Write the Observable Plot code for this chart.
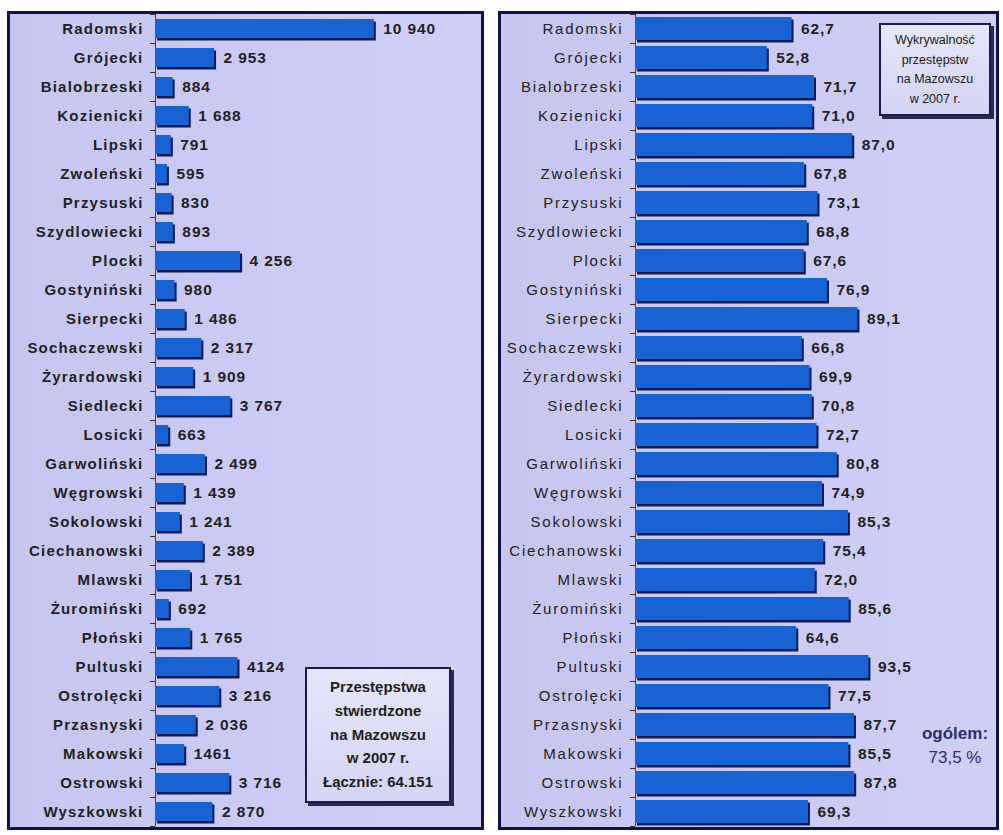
<!DOCTYPE html>
<html>
<head>
<meta charset="utf-8">
<script src="https://cdn.jsdelivr.net/npm/d3@7"></script>
<script src="https://cdn.jsdelivr.net/npm/@observablehq/plot@0.6"></script>
<style>
  html, body { margin: 0; padding: 0; background: #fff; width: 1003px; height: 835px; overflow: hidden; }
  body { position: relative; font-family: "Liberation Sans", Arial, sans-serif; }
  .panel { position: absolute; border: 3px solid #12124a; background: linear-gradient(90deg, #c6c6f0 0%, #cbcbf5 60%, #cfcff7 100%); overflow: hidden; }
  .panel svg { position: absolute; left: 0; top: 0; background: transparent !important; }
  #left .ylab text { letter-spacing: 1.2px; }
  #right .ylab text { letter-spacing: 1.8px; }
  .vals text { letter-spacing: 0.9px; }
  .box { position: absolute; text-align: center; color: #1f1f1f; border: 2px solid #1c1c4a; box-shadow: 3px 3px 0 #2a2a5a; background: linear-gradient(180deg, #e6e6fb 0%, #d4d4f4 100%); }
</style>
</head>
<body>
<div id="left" class="panel" style="left:7px; top:11px; width:471px; height:813px;"></div>
<div id="right" class="panel" style="left:498px; top:11px; width:495px; height:813px;"></div>
<div class="box" style="left:305px; top:667px; width:146px; height:136px; font-weight:bold; font-size:15px; line-height:23.8px; padding-top:6px; box-sizing:border-box;">
Przestępstwa<br>stwierdzone<br>na Mazowszu<br>w 2007 r.<br>Łącznie: 64.151
</div>
<div class="box" style="left:879px; top:23px; width:112px; height:93px; font-size:12.5px; line-height:19.5px; padding-top:6px; box-sizing:border-box; color:#1a1a1a;">
Wykrywalność<br>przestępstw<br>na Mazowszu<br>w 2007 r.
</div>
<div style="position:absolute; left:900px; top:722px; width:110px; text-align:center; color:#2b2f6e; font-size:17px; line-height:24px;">
<b>ogólem:</b><br>73,5 %
</div>
<script>
const districts = ["Radomski","Grójecki","Bialobrzeski","Kozienicki","Lipski","Zwoleński","Przysuski","Szydlowiecki","Plocki","Gostyniński","Sierpecki","Sochaczewski","Żyrardowski","Siedlecki","Losicki","Garwoliński","Węgrowski","Sokolowski","Ciechanowski","Mlawski","Żuromiński","Płoński","Pultuski","Ostrolęcki","Przasnyski","Makowski","Ostrowski","Wyszkowski"];
const crimes = [10940,2953,884,1688,791,595,830,893,4256,980,1486,2317,1909,3767,663,2499,1439,1241,2389,1751,692,1765,4124,3216,2036,1461,3716,2870];
const crimeLabels = ["10 940","2 953","884","1 688","791","595","830","893","4 256","980","1 486","2 317","1 909","3 767","663","2 499","1 439","1 241","2 389","1 751","692","1 765","4124","3 216","2 036","1461","3 716","2 870"];
const detection = [62.7,52.8,71.7,71.0,87.0,67.8,73.1,68.8,67.6,76.9,89.1,66.8,69.9,70.8,72.7,80.8,74.9,85.3,75.4,72.0,85.6,64.6,93.5,77.5,87.7,85.5,87.8,69.3];
const detectionLabels = detection.map(v => v.toFixed(1).replace(".", ","));

const leftData = districts.map((d, i) => ({name: d, value: crimes[i], label: crimeLabels[i]}));
const rightData = districts.map((d, i) => ({name: d, value: detection[i], label: detectionLabels[i]}));

const H = 813, MT = 0, MB = 1;

function panel({data, width, marginLeft, xmax, padding, labelWeight, labelSize}) {
  const inner = width - marginLeft;
  const half = (H - MT - MB) / districts.length / 2;
  return Plot.plot({
    width, height: H,
    marginLeft, marginRight: 0, marginTop: MT, marginBottom: MB,
    style: {fontFamily: "Liberation Sans, Arial, sans-serif", color: "#222", background: "transparent"},
    x: {domain: [0, xmax], axis: null},
    y: {domain: districts, paddingInner: padding, paddingOuter: padding / 2, align: 0.5, axis: null},
    marks: [
      Plot.axisY({tickSize: 0, tickPadding: 12, label: null, fontSize: labelSize, fontWeight: labelWeight, fill: "#222", className: "ylab"}),
      Plot.tickY(data, {y: "name", dy: -half, insetLeft: -5, insetRight: inner, stroke: "#333", strokeWidth: 1}),
      Plot.tickY(data.slice(-1), {y: "name", dy: half, insetLeft: -5, insetRight: inner, stroke: "#333", strokeWidth: 1}),
      Plot.ruleX([0], {stroke: "#444", strokeWidth: 1}),
      Plot.barX(data, {y: "name", x: "value", fill: "#0d1b58", dx: 2, dy: 2.5}),
      Plot.barX(data, {y: "name", x: "value", fill: "#1862d4"}),
      Plot.text(data, {y: "name", x: "value", text: "label", textAnchor: "start", dx: 9, fontSize: 15.5, fontWeight: "bold", fill: "#222", className: "vals"})
    ]
  });
}

document.getElementById("left").appendChild(panel({data: leftData, width: 471, marginLeft: 145, xmax: 16300, padding: 0.34, labelWeight: "bold", labelSize: 15}));
document.getElementById("right").appendChild(panel({data: rightData, width: 495, marginLeft: 134, xmax: 144.6, padding: 0.2, labelWeight: "normal", labelSize: 15}));
</script>
</body>
</html>
